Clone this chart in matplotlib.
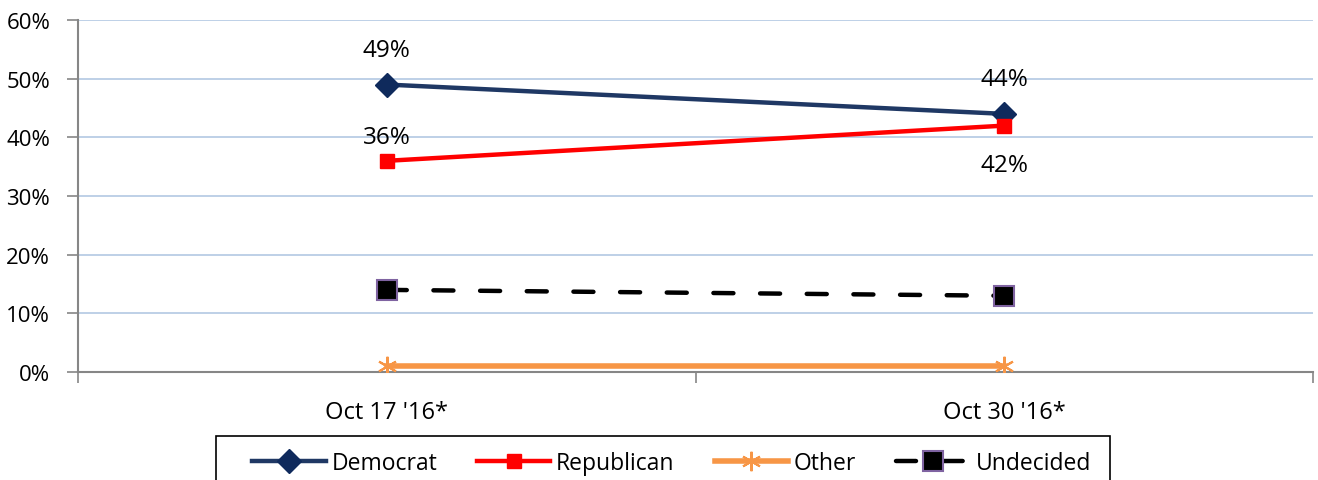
import matplotlib.pyplot as plt
from matplotlib.patches import Rectangle
from matplotlib.ticker import PercentFormatter

# Poll results, percent
dates = ["Oct 17 '16*", "Oct 30 '16*"]
democrat = [49, 44]
republican = [36, 42]
other = [1, 1]
undecided = [14, 13]

plt.rcParams['font.family'] = ['Open Sans', 'DejaVu Sans']

fig = plt.figure(figsize=(13.18, 4.81), dpi=100)
ax = fig.add_axes([0.0592, 0.2245, 0.937, 0.7318])

x = range(len(dates))

# Series lines
ax.plot(x, democrat, color='#1f3864', lw=3.2, marker='D', ms=12,
        mfc='#0f2a5c', mec='#0f2a5c', label='Democrat', zorder=4)
ax.plot(x, republican, color='#ff0000', lw=3.2, marker='s', ms=10.5,
        mfc='#ff0000', mec='#ff0000', label='Republican', zorder=4)
ax.plot(x, other, color='#f79646', lw=4, marker=(6, 2, 0), ms=14, mew=1.5,
        mec='#f79646', label='Other', zorder=3)
ax.plot(x, undecided, color='black', lw=3.2, ls=(0, (4.5, 6)), dash_capstyle='round',
        marker='s', ms=14, mfc='black', mec='#7f63a1', mew=1.5,
        label='Undecided', zorder=3)

# Data labels for the two main parties
lab = dict(textcoords='offset points', ha='center', va='center', fontsize=17.5)
ax.annotate('49%', (0, democrat[0]), xytext=(0, 25), **lab)
ax.annotate('36%', (0, republican[0]), xytext=(0, 17), **lab)
ax.annotate('44%', (1, democrat[1]), xytext=(0, 25), **lab)
ax.annotate('42%', (1, republican[1]), xytext=(0, -28), **lab)

# Axes styling
ax.set_xlim(-0.5, 1.5)
ax.set_ylim(0, 60)
ax.set_yticks(range(0, 61, 10))
ax.yaxis.set_major_formatter(PercentFormatter(decimals=0))
ax.set_xticks([-0.5, 0.5, 1.5])
ax.set_xticklabels([])
ax.set_xticks(list(x), minor=True)
ax.set_xticklabels(dates, minor=True)
ax.tick_params(axis='x', which='minor', length=0, pad=20, labelsize=17)
ax.tick_params(axis='x', which='major', length=8, color='#868686', width=1.2)
ax.tick_params(axis='y', length=8, color='#868686', width=1.2, labelsize=16, pad=12)

ax.grid(axis='y', color='#b9cde5', lw=1.3)
ax.set_axisbelow(True)
for side in ['top', 'right']:
    ax.spines[side].set_visible(False)
for side in ['left', 'bottom']:
    ax.spines[side].set_color('#868686')
    ax.spines[side].set_linewidth(1.5)

# Legend box runs off the bottom of the image like the original
fig.patches.append(Rectangle((0.1639, -0.1), 0.6783, 0.1915, transform=fig.transFigure,
                             fill=False, edgecolor='black', lw=1.2))
leg = fig.legend(loc='center', bbox_to_anchor=(0.5095, 0.036), ncol=4,
                 fontsize=16.5, frameon=False, handlelength=3.2,
                 handletextpad=0.25, columnspacing=1.75, borderpad=0)

fig.savefig('out.png', dpi=100)
